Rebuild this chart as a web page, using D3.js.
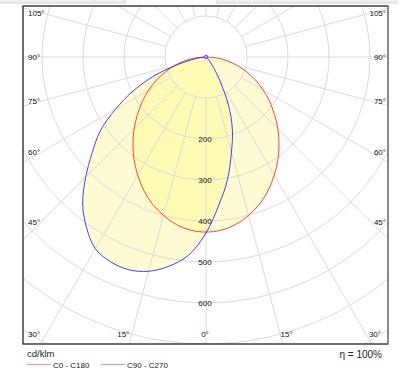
<!DOCTYPE html>
<html>
<head>
<meta charset="utf-8">
<script src="https://cdn.jsdelivr.net/npm/d3@7"></script>
<style>
  body { margin: 0; background: #fff; }
  svg { display: block; font-family: "Liberation Sans", Arial, sans-serif; }
</style>
</head>
<body>
<svg id="chart" width="407" height="375"></svg>
<script>
// gamma angles (deg) from nadir, same for every half-plane
const gammas = [0, 5, 10, 15, 20, 25, 30, 35, 40, 45, 50, 55, 60, 65, 70, 75, 80, 85, 90];
// cd/klm, C0 - C180 plane (symmetric)
const c0c180 = [427, 424, 415, 400, 382, 359, 333, 306, 277, 248, 218, 190, 161, 133, 105, 78, 52, 26, 0];
// cd/klm, C90 half (right side)
const c90 = [429, 362, 303, 240, 188, 130, 70, 34, 16, 8, 5, 3, 2, 2, 1, 1, 0, 0, 0];
// cd/klm, C270 half (left side)
const c270 = [429, 485, 518, 541, 552, 551, 540, 508, 468, 415, 362, 315, 255, 196, 135, 72, 30, 10, 0];

const ringValues = [100, 200, 300, 400, 500, 600, 700, 800, 900];
const ringLabels = [200, 300, 400, 500, 600];
const spokeAngles = d3.range(0, 360, 15);
const angleLabels = [0, 15, 30, 45, 60, 75, 90, 105];

const svg = d3.select("#chart");
const frame = {x0: 23, y0: 6, x1: 388, y1: 344};
const cx = 206, cy = 57;
const r = d3.scaleLinear().domain([0, 700]).range([0, 287]);

// bits of window chrome at the top
svg.append("rect").attr("x", -1).attr("y", -1).attr("width", 126).attr("height", 4)
    .attr("fill", "#f0f0f0").attr("stroke", "#d4d4d4");
svg.append("rect").attr("x", 217).attr("y", -1).attr("width", 180).attr("height", 4)
    .attr("fill", "#f0f0f0").attr("stroke", "#d4d4d4");

svg.append("clipPath").attr("id", "clip")
    .append("rect")
    .attr("x", frame.x0).attr("y", frame.y0)
    .attr("width", frame.x1 - frame.x0).attr("height", frame.y1 - frame.y0);

const plot = svg.append("g").attr("clip-path", "url(#clip)");
const g = plot.append("g").attr("transform", `translate(${cx},${cy})`);

// closed outline: right half from 90 down to 0, then left half from 5 up to 90
// lineRadial angle: 0 = up, clockwise; nadir = PI
function outline(right, left) {
    const pts = [];
    for (let i = gammas.length - 1; i >= 0; i--) pts.push([Math.PI - gammas[i] * Math.PI / 180, r(right[i])]);
    for (let i = 1; i < gammas.length; i++) pts.push([Math.PI + gammas[i] * Math.PI / 180, r(left[i])]);
    return pts;
}
const line = d3.lineRadial().curve(d3.curveCatmullRomClosed.alpha(0.5));

const redPts = outline(c0c180, c0c180);
const bluePts = outline(c90, c270);

// fills
g.append("path").attr("d", line(redPts)).attr("fill", "#fff46e").attr("fill-opacity", 0.3);
g.append("path").attr("d", line(bluePts)).attr("fill", "#fff46e").attr("fill-opacity", 0.3);

// grid
g.selectAll(".ring").data(ringValues).enter().append("circle")
    .attr("r", d => r(d)).attr("fill", "none")
    .attr("stroke", "#dadada").attr("stroke-width", 1);

g.selectAll(".spoke").data(spokeAngles).enter().append("line")
    .attr("x1", d => r(100) * Math.sin(d * Math.PI / 180))
    .attr("y1", d => r(100) * Math.cos(d * Math.PI / 180))
    .attr("x2", d => 600 * Math.sin(d * Math.PI / 180))
    .attr("y2", d => 600 * Math.cos(d * Math.PI / 180))
    .attr("stroke", "#dadada").attr("stroke-width", 1);

// curves
g.append("path").attr("d", line(redPts)).attr("fill", "none")
    .attr("stroke", "#ff2a2a").attr("stroke-width", 0.9);
g.append("path").attr("d", line(bluePts)).attr("fill", "none")
    .attr("stroke", "#2a2aff").attr("stroke-width", 0.9);
g.append("circle").attr("r", 1.8).attr("fill", "#c0a0ff").attr("stroke", "#8020e0").attr("stroke-width", 0.8);

// ring values along the nadir
g.selectAll(".rlab").data(ringLabels).enter().append("text")
    .attr("x", -1).attr("y", d => r(d)).attr("dy", "0.35em")
    .attr("text-anchor", "middle").attr("font-size", 8).attr("fill", "#111")
    .text(d => d);

// frame
svg.append("rect")
    .attr("x", frame.x0).attr("y", frame.y0)
    .attr("width", frame.x1 - frame.x0).attr("height", frame.y1 - frame.y0)
    .attr("fill", "none").attr("stroke", "#111").attr("stroke-width", 1.2);
svg.append("line").attr("x1", frame.x1).attr("x2", frame.x1)
    .attr("y1", frame.y0).attr("y2", frame.y1)
    .attr("stroke", "#9a9a9a").attr("stroke-width", 1.2);

// angle labels, on both sides
const sideDx = 174, bottomY = 334;
angleLabels.forEach(a => {
    const rad = a * Math.PI / 180;
    [-1, 1].forEach(side => {
        if (a === 0 && side === 1) return;
        let x, y, anchor;
        const ySide = a === 90 ? cy : cy + 0.95 * sideDx / Math.tan(rad);
        if (a >= 45) {
            x = side < 0 ? cx - sideDx - 4 : cx + sideDx + 4 + 2;
            y = ySide;
            anchor = side < 0 ? "start" : "end";
        } else if (a === 30) {
            x = side < 0 ? 28 : 381;
            y = bottomY;
            anchor = side < 0 ? "start" : "end";
        } else {
            x = cx - 1 + side * 1.1 * (bottomY - cy) * Math.tan(rad);
            y = bottomY;
            anchor = "middle";
        }
        svg.append("text").attr("x", x).attr("y", y).attr("dy", "0.35em")
            .attr("text-anchor", anchor).attr("font-size", 8).attr("fill", "#111")
            .text(a + "°");
    });
});

// legend
svg.append("text").attr("x", 27).attr("y", 357).attr("font-size", 9.5).attr("fill", "#222").text("cd/klm");
svg.append("text").attr("x", 382).attr("y", 358).attr("text-anchor", "end")
    .attr("font-size", 10).attr("fill", "#222").text("η = 100%");
const legend = [
    {label: "C0 - C180", color: "#e89aa6", x: 27},
    {label: "C90 - C270", color: "#a4a4e8", x: 101}
];
legend.forEach(d => {
    svg.append("line").attr("x1", d.x).attr("x2", d.x + 24).attr("y1", 364.5).attr("y2", 364.5)
        .attr("stroke", d.color).attr("stroke-width", 1.2);
    svg.append("text").attr("x", d.x + 26).attr("y", 367.5).attr("font-size", 8).attr("fill", "#222").text(d.label);
});
</script>
</body>
</html>
